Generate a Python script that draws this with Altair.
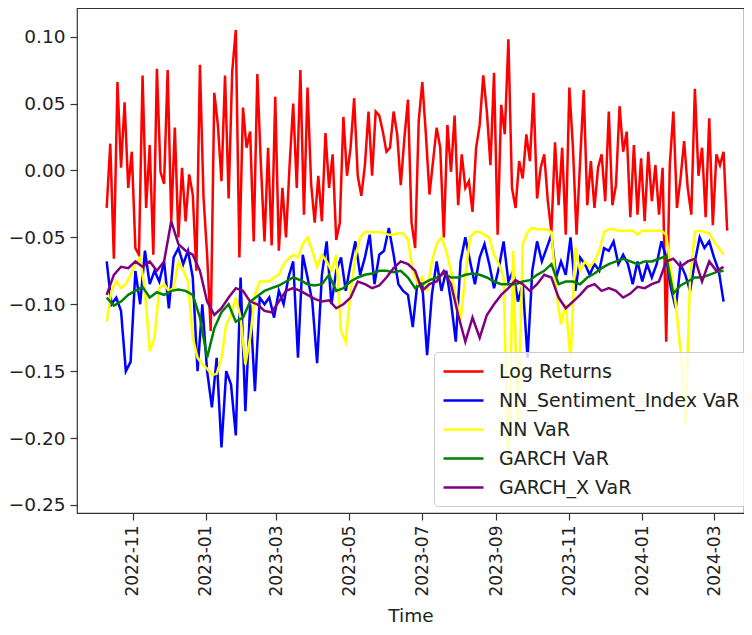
import altair as alt
import pandas as pd

START = "2022-10-10"

series_names = ["Log Returns", "NN_Sentiment_Index VaR", "NN VaR", "GARCH VaR", "GARCH_X VaR"]
series_colors = ["#ff0000", "#0000ff", "#ffff00", "#008000", "#800080"]

# Log returns, one value every 3 days
log_returns = [
    -0.028, 0.020, -0.066, 0.066, 0.002, 0.051, -0.013, 0.014, -0.058, -0.063,
    0.071, -0.028, 0.019, -0.063, 0.076, -0.001, -0.010, 0.075, -0.038, 0.032,
    -0.050, 0.002, -0.038, -0.003, -0.018, -0.075, 0.079, -0.020, -0.063, -0.120,
    0.058, 0.034, -0.008, 0.071, -0.021, 0.074, 0.105, -0.065, 0.047, 0.017,
    0.029, -0.053, 0.072, 0.004, -0.053, 0.017, -0.056, 0.055, -0.060, -0.013,
    -0.050, 0.004, 0.050, -0.013, 0.075, -0.033, 0.062, -0.010, -0.039, -0.004,
    -0.038, 0.028, -0.013, 0.012, -0.052, -0.039, 0.040, -0.004, 0.017, 0.054,
    -0.004, -0.019, 0.004, 0.044, -0.004, 0.044, 0.041, 0.029, 0.014, 0.017,
    0.044, 0.027, -0.011, 0.024, 0.053, -0.039, -0.058, 0.037, 0.066, 0.027,
    -0.018, 0.007, 0.032, 0.017, -0.050, 0.034, -0.001, 0.041, -0.026, 0.012,
    -0.013, -0.008, -0.031, 0.017, 0.034, 0.071, 0.044, 0.004, 0.073, -0.048,
    0.049, 0.027, 0.098, -0.013, -0.028, 0.007, -0.006, 0.027, 0.007, 0.058,
    -0.021, 0.002, 0.012, -0.023, -0.046, 0.021, -0.026, 0.017, -0.048, 0.062,
    0.017, -0.048, 0.007, 0.060, -0.026, 0.007, -0.028, 0.002, 0.012, -0.023,
    0.044, -0.026, -0.011, 0.048, 0.014, 0.029, -0.035, 0.019, -0.033, 0.009,
    -0.038, 0.014, -0.023, 0.004, -0.033, 0.002, -0.128, 0.004, 0.044, -0.028,
    -0.006, 0.022, -0.013, -0.033, 0.061, -0.004, 0.017, -0.035, 0.039, -0.041,
    0.012, 0.004, 0.014, -0.045,
]

# NN_Sentiment_Index VaR, one value every 4 days
nn_sentiment_var = [
    -0.068, -0.100, -0.095, -0.105, -0.150, -0.143, -0.075, -0.100, -0.060, -0.085,
    -0.075, -0.083, -0.068, -0.103, -0.065, -0.058, -0.070, -0.060, -0.080, -0.150,
    -0.100, -0.150, -0.177, -0.140, -0.207, -0.150, -0.160, -0.198, -0.080, -0.180,
    -0.100, -0.165, -0.095, -0.100, -0.095, -0.110, -0.090, -0.100, -0.080, -0.068,
    -0.140, -0.063, -0.080, -0.098, -0.144, -0.078, -0.053, -0.100, -0.075, -0.065,
    -0.090, -0.070, -0.053, -0.078, -0.065, -0.048, -0.085, -0.063, -0.060, -0.043,
    -0.063, -0.085, -0.090, -0.093, -0.117, -0.083, -0.085, -0.138, -0.093, -0.068,
    -0.090, -0.075, -0.098, -0.128, -0.068, -0.050, -0.068, -0.085, -0.065, -0.055,
    -0.070, -0.088, -0.073, -0.053, -0.083, -0.075, -0.098, -0.085, -0.140, -0.075,
    -0.053, -0.068, -0.058, -0.048, -0.080, -0.068, -0.078, -0.050, -0.090, -0.065,
    -0.070, -0.078, -0.070, -0.075, -0.058, -0.060, -0.053, -0.070, -0.063, -0.070,
    -0.085, -0.068, -0.083, -0.070, -0.080, -0.070, -0.053, -0.065, -0.088, -0.103,
    -0.070, -0.078, -0.090, -0.068, -0.050, -0.058, -0.053, -0.065, -0.075, -0.098,
]

# NN VaR, one value every 4 days
nn_var = [
    -0.113, -0.090, -0.083, -0.088, -0.085, -0.078, -0.070, -0.065, -0.090, -0.135,
    -0.125, -0.088, -0.085, -0.090, -0.088, -0.068, -0.075, -0.083, -0.125, -0.140,
    -0.145, -0.148, -0.153, -0.152, -0.140, -0.115, -0.108, -0.095, -0.110, -0.145,
    -0.125, -0.093, -0.083, -0.083, -0.083, -0.080, -0.078, -0.070, -0.066, -0.063,
    -0.065, -0.055, -0.050, -0.060, -0.072, -0.063, -0.068, -0.075, -0.063, -0.120,
    -0.128, -0.090, -0.065, -0.050, -0.046, -0.046, -0.046, -0.046, -0.047, -0.048,
    -0.048, -0.047, -0.047, -0.052, -0.075, -0.085, -0.080, -0.090, -0.068, -0.055,
    -0.050, -0.060, -0.075, -0.095, -0.112, -0.078, -0.050, -0.046, -0.046, -0.048,
    -0.050, -0.063, -0.070, -0.080, -0.225, -0.060, -0.200, -0.055, -0.046, -0.043,
    -0.044, -0.044, -0.044, -0.046, -0.090, -0.115, -0.100, -0.142, -0.058, -0.075,
    -0.068, -0.072, -0.068, -0.060, -0.046, -0.044, -0.044, -0.045, -0.045, -0.045,
    -0.045, -0.048, -0.045, -0.045, -0.045, -0.045, -0.045, -0.048, -0.075, -0.100,
    -0.135, -0.189, -0.080, -0.046, -0.045, -0.046, -0.047, -0.053, -0.058, -0.063,
]

# GARCH VaR, one value every 6 days
garch_var = [
    -0.095, -0.101, -0.098, -0.093, -0.090, -0.087, -0.095, -0.091, -0.093, -0.090,
    -0.089, -0.090, -0.093, -0.110, -0.140, -0.118, -0.106, -0.100, -0.113, -0.110,
    -0.098, -0.094, -0.090, -0.088, -0.086, -0.083, -0.080, -0.082, -0.085, -0.086,
    -0.085, -0.078, -0.090, -0.088, -0.083, -0.080, -0.078, -0.077, -0.075, -0.075,
    -0.076, -0.075, -0.080, -0.088, -0.085, -0.082, -0.080, -0.077, -0.080, -0.080,
    -0.078, -0.077, -0.078, -0.080, -0.083, -0.085, -0.085, -0.085, -0.083, -0.082,
    -0.078, -0.075, -0.070, -0.085, -0.083, -0.083, -0.085, -0.080, -0.077, -0.073,
    -0.070, -0.068, -0.066, -0.068, -0.070, -0.068, -0.068, -0.066, -0.064, -0.092,
    -0.086, -0.083, -0.080, -0.080, -0.078, -0.076, -0.075,
]

# GARCH_X VaR, one value every 6 days
garch_x_var = [
    -0.093, -0.078, -0.072, -0.073, -0.068, -0.072, -0.068, -0.075, -0.068, -0.038,
    -0.055, -0.060, -0.063, -0.075, -0.098, -0.108, -0.103, -0.095, -0.088, -0.090,
    -0.098, -0.100, -0.105, -0.106, -0.098, -0.090, -0.088, -0.090, -0.093, -0.096,
    -0.098, -0.097, -0.103, -0.100, -0.095, -0.083, -0.085, -0.088, -0.086, -0.080,
    -0.073, -0.068, -0.070, -0.075, -0.090, -0.085, -0.083, -0.075, -0.085, -0.108,
    -0.128, -0.110, -0.125, -0.108, -0.100, -0.093, -0.088, -0.082, -0.085, -0.090,
    -0.085, -0.078, -0.080, -0.095, -0.103, -0.098, -0.093, -0.087, -0.085, -0.090,
    -0.088, -0.090, -0.095, -0.092, -0.087, -0.088, -0.085, -0.083, -0.068, -0.066,
    -0.072, -0.068, -0.066, -0.083, -0.068, -0.075, -0.072,
]

y_ticks = [-0.25, -0.20, -0.15, -0.10, -0.05, 0.00, 0.05, 0.10]
x_tick_months = [(2022, 11), (2023, 1), (2023, 3), (2023, 5), (2023, 7),
                 (2023, 9), (2023, 11), (2024, 1), (2024, 3)]


def frame(values, step_days, name):
    start = pd.Timestamp(START)
    dates = [(start + pd.Timedelta(days=i * step_days)).strftime("%Y-%m-%d")
             for i in range(len(values))]
    return pd.DataFrame({"Time": dates, "value": values, "series": name})


frames = [
    frame(log_returns, 3, series_names[0]),
    frame(nn_sentiment_var, 4, series_names[1]),
    frame(nn_var, 4, series_names[2]),
    frame(garch_var, 6, series_names[3]),
    frame(garch_x_var, 6, series_names[4]),
]

FONT = "DejaVu Sans"
TXT = "#222222"

x_enc = alt.X(
    "Time:T",
    scale=alt.Scale(
        type="utc",
        domain=[alt.DateTime(year=2022, month=9, date=15, hours=4, utc=True),
                alt.DateTime(year=2024, month=3, date=26, hours=2, utc=True)],
    ),
    axis=alt.Axis(
        values=[alt.DateTime(year=y, month=m, date=1, utc=True) for y, m in x_tick_months],
        labelExpr="utcFormat(datum.value, '%Y-%m')",
        labelAngle=270,
        labelFontSize=17,
        title="Time",
        titlePadding=10,
    ),
)

y_enc = alt.Y(
    "value:Q",
    scale=alt.Scale(domain=[-0.256, 0.1214], nice=False, zero=False),
    axis=alt.Axis(
        values=y_ticks,
        labelExpr="replace(format(datum.value, '.2f'), '-', '\u2212')",
        labelFontSize=18.5,
        title=None,
    ),
)

color_enc = alt.Color(
    "series:N",
    scale=alt.Scale(domain=series_names, range=series_colors),
    legend=alt.Legend(
        title=None,
        orient="none",
        legendX=357,
        legendY=344,
        fillColor="rgba(255,255,255,0.8)",
        strokeColor="#cccccc",
        cornerRadius=4,
        padding=8,
        symbolType="M-1,0H3",
        symbolStrokeWidth=2.6,
        symbolSize=400,
        labelFontSize=19,
        labelFont=FONT,
        labelColor=TXT,
        labelOffset=34,
        labelLimit=0,
        rowPadding=7,
    ),
)

layers = [
    alt.Chart(df).mark_line(strokeWidth=2.5, clip=True).encode(x=x_enc, y=y_enc, color=color_enc)
    for df in frames
]

chart = alt.layer(*layers).properties(
    width=667,
    height=505,
    autosize=alt.AutoSizeParams(type="none"),
    padding={"left": 69, "top": 0, "right": 0, "bottom": 114},
).configure_view(
    stroke="#333333",
    strokeWidth=1.2,
).configure_axis(
    domain=False,
    grid=False,
    tickColor="#333333",
    tickSize=7,
    tickWidth=1.2,
    labelPadding=5,
    labelFont=FONT,
    labelColor=TXT,
    titleFont=FONT,
    titleFontSize=18.5,
    titleFontWeight="normal",
    titleColor=TXT,
)

chart.save("out.html", embed_options={"renderer": "svg", "actions": False})
